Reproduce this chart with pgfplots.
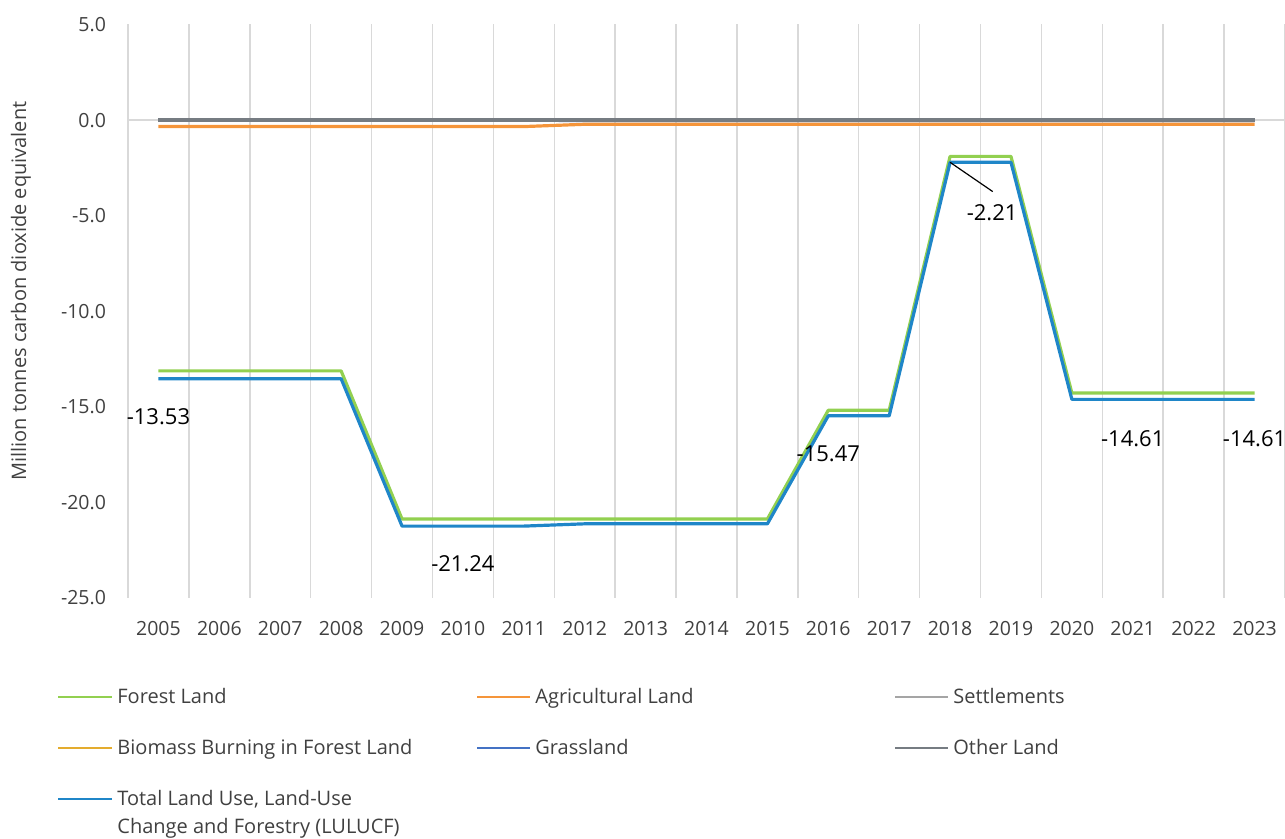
\documentclass[border=0pt]{standalone}
\usepackage{fontspec}
\setmainfont{Open Sans}
\usepackage{pgfplots}
\usepackage{pgfplotstable}
\pgfplotsset{compat=1.18}
\definecolor{cForest}{HTML}{92D050}
\definecolor{cAgri}{HTML}{F5953A}
\definecolor{cSettl}{HTML}{A5A5A5}
\definecolor{cBiom}{HTML}{E4AC2E}
\definecolor{cGrass}{HTML}{4472C4}
\definecolor{cOther}{HTML}{767C82}
\definecolor{cTotal}{HTML}{1F86C8}
\definecolor{gridc}{HTML}{D9D9D9}
\definecolor{tickc}{HTML}{404040}

\pgfplotstableread{
x forest agri settl biomass grass other total
0  -13.12 -0.34 0.03 -0.01 0.00 0.00 -13.53
1  -13.12 -0.34 0.03 -0.01 0.00 0.00 -13.53
2  -13.12 -0.34 0.03 -0.01 0.00 0.00 -13.53
3  -13.12 -0.34 0.03 -0.01 0.00 0.00 -13.53
4  -20.87 -0.34 0.03 -0.01 0.00 0.00 -21.24
5  -20.87 -0.34 0.03 -0.01 0.00 0.00 -21.24
6  -20.87 -0.34 0.03 -0.01 0.00 0.00 -21.24
7  -20.87 -0.22 0.03 -0.01 -0.03 0.00 -21.12
8  -20.87 -0.22 0.03 -0.01 -0.03 0.00 -21.12
9  -20.87 -0.22 0.03 -0.01 -0.03 0.00 -21.12
10 -20.87 -0.22 0.03 -0.01 -0.03 0.00 -21.12
11 -15.18 -0.22 0.03 -0.01 -0.03 0.00 -15.47
12 -15.18 -0.22 0.03 -0.01 -0.03 0.00 -15.47
13 -1.90  -0.22 0.03 -0.01 -0.03 0.00 -2.21
14 -1.90  -0.22 0.03 -0.01 -0.03 0.00 -2.21
15 -14.28 -0.22 0.03 -0.01 -0.03 0.00 -14.61
16 -14.28 -0.22 0.03 -0.01 -0.03 0.00 -14.61
17 -14.28 -0.22 0.03 -0.01 -0.03 0.00 -14.61
18 -14.28 -0.22 0.03 -0.01 -0.03 0.00 -14.61
}\data

\begin{document}
\begin{tikzpicture}[x=1pt,y=1pt]
\useasboundingbox (0,0) rectangle (642.5,419.5);
\begin{axis}[
  at={(64pt,120.5pt)}, anchor=south west,
  scale only axis, width=578.5pt, height=286.75pt,
  xmin=-0.5, xmax=18.5, ymin=-25, ymax=5,
  xtick={0,...,18},
  xticklabels={2005,2006,2007,2008,2009,2010,2011,2012,2013,2014,2015,2016,2017,2018,2019,2020,2021,2022,2023},
  minor xtick={-0.5,0.5,...,18.5},
  xminorgrids=true,
  minor grid style={draw=gridc, line width=0.75pt},
  ytick={-25,-20,...,5},
  extra y ticks={0}, extra y tick labels={},
  extra y tick style={ymajorgrids=true, major grid style={draw=gridc, line width=0.75pt}},
  axis line style={draw=none},
  major tick length=0pt, minor tick length=0pt,
  tick style={draw=none},
  /pgf/number format/assume math mode=true,
  yticklabel style={/pgf/number format/.cd, fixed, fixed zerofill, precision=1, /tikz/.cd,
    font=\fontsize{9.75}{11}\selectfont, text=tickc, xshift=-7.5pt},
  xticklabel style={font=\fontsize{9.75}{11}\selectfont, text=tickc, yshift=-8pt},
  clip=false,
  every axis plot/.append style={line width=1.6pt, mark=none, line join=round},
]
\addplot[cForest] table[x=x, y=forest]{\data};
\addplot[cAgri] table[x=x, y=agri]{\data};
\addplot[cSettl] table[x=x, y=settl]{\data};
\addplot[cBiom] table[x=x, y=biomass]{\data};
\addplot[cGrass] table[x=x, y=grass]{\data};
\addplot[cOther] table[x=x, y=other]{\data};
\addplot[cTotal] table[x=x, y=total]{\data};

\begin{scope}[every node/.style={font=\fontsize{11}{13}\selectfont, text=black, inner sep=0pt}]
\node at (axis cs:0,-15.52) {-13.53};
\node at (axis cs:5,-23.2) {-21.24};
\node at (axis cs:11,-17.47) {-15.47};
\node at (axis cs:13.69,-4.84) {-2.21};
\node at (axis cs:16,-16.68) {-14.61};
\node at (axis cs:18,-16.68) {-14.61};
\end{scope}
\draw[black, line width=0.6pt] (axis cs:13,-2.21) -- (axis cs:13.7,-3.74);
\end{axis}

\node[rotate=90, font=\fontsize{10}{12}\selectfont, text=tickc] at (10.5,274) {Million tonnes carbon dioxide equivalent};

\begin{scope}[every node/.style={anchor=base west, inner sep=0pt, font=\fontsize{10}{12}\selectfont, text=tickc}]
\draw[cForest, line width=1pt] (29,71) -- (56,71);
\node at (58.5,67.5) {Forest Land};
\draw[cAgri, line width=1pt] (238.5,71) -- (265,71);
\node at (267.5,67.5) {Agricultural Land};
\draw[cSettl, line width=1pt] (447.5,71) -- (474,71);
\node at (476.5,67.5) {Settlements};
\draw[cBiom, line width=1pt] (29,45.5) -- (56,45.5);
\node at (58.5,42) {Biomass Burning in Forest Land};
\draw[cGrass, line width=1pt] (238.5,45.5) -- (265,45.5);
\node at (267.5,42) {Grassland};
\draw[cOther, line width=1pt] (447.5,45.5) -- (474,45.5);
\node at (476.5,42) {Other Land};
\draw[cTotal, line width=1pt] (29,20) -- (56,20);
\node at (58.5,16.5) {Total Land Use, Land-Use};
\node at (58.5,2.5) {Change and Forestry (LULUCF)};
\end{scope}
\end{tikzpicture}
\end{document}
